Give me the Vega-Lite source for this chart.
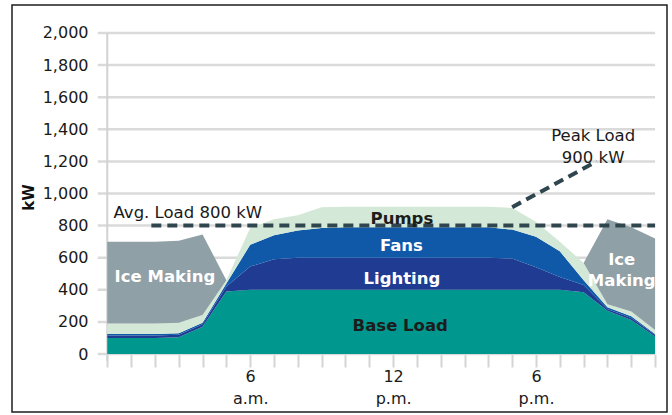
{
  "$schema": "https://vega.github.io/schema/vega-lite/v6.json",
  "width": 655,
  "height": 407,
  "autosize": "none",
  "padding": {"left": 12, "top": 5, "right": 5, "bottom": 3},
  "background": "white",
  "config": {
    "view": {"stroke": "#1e1e1e", "strokeWidth": 1.5},
    "font": "DejaVu Sans",
    "axis": {"grid": false}
  },
  "resolve": {"axis": {"x": "independent", "y": "independent"}},
  "datasets": {
    "loads": [
      {"hour": 0, "Base Load": 100, "Lighting": 15, "Fans": 10, "Pumps": 65, "Ice Making": 510},
      {"hour": 1, "Base Load": 100, "Lighting": 15, "Fans": 10, "Pumps": 65, "Ice Making": 510},
      {"hour": 2, "Base Load": 100, "Lighting": 15, "Fans": 10, "Pumps": 65, "Ice Making": 510},
      {"hour": 3, "Base Load": 105, "Lighting": 15, "Fans": 10, "Pumps": 65, "Ice Making": 510},
      {"hour": 4, "Base Load": 170, "Lighting": 15, "Fans": 10, "Pumps": 48, "Ice Making": 502},
      {"hour": 5, "Base Load": 390, "Lighting": 30, "Fans": 20, "Pumps": 20, "Ice Making": 0},
      {"hour": 6, "Base Load": 400, "Lighting": 145, "Fans": 135, "Pumps": 105, "Ice Making": 0},
      {"hour": 7, "Base Load": 400, "Lighting": 190, "Fans": 150, "Pumps": 100, "Ice Making": 0},
      {"hour": 8, "Base Load": 400, "Lighting": 200, "Fans": 170, "Pumps": 95, "Ice Making": 0},
      {"hour": 9, "Base Load": 400, "Lighting": 200, "Fans": 185, "Pumps": 130, "Ice Making": 0},
      {"hour": 10, "Base Load": 400, "Lighting": 200, "Fans": 190, "Pumps": 128, "Ice Making": 0},
      {"hour": 11, "Base Load": 400, "Lighting": 200, "Fans": 190, "Pumps": 128, "Ice Making": 0},
      {"hour": 12, "Base Load": 400, "Lighting": 200, "Fans": 190, "Pumps": 128, "Ice Making": 0},
      {"hour": 13, "Base Load": 400, "Lighting": 200, "Fans": 190, "Pumps": 128, "Ice Making": 0},
      {"hour": 14, "Base Load": 400, "Lighting": 200, "Fans": 190, "Pumps": 128, "Ice Making": 0},
      {"hour": 15, "Base Load": 400, "Lighting": 200, "Fans": 190, "Pumps": 128, "Ice Making": 0},
      {"hour": 16, "Base Load": 400, "Lighting": 200, "Fans": 190, "Pumps": 128, "Ice Making": 0},
      {"hour": 17, "Base Load": 400, "Lighting": 195, "Fans": 180, "Pumps": 135, "Ice Making": 0},
      {"hour": 18, "Base Load": 400, "Lighting": 140, "Fans": 190, "Pumps": 94, "Ice Making": 0},
      {"hour": 19, "Base Load": 400, "Lighting": 80, "Fans": 160, "Pumps": 60, "Ice Making": 0},
      {"hour": 20, "Base Load": 385, "Lighting": 45, "Fans": 30, "Pumps": 107, "Ice Making": 0},
      {"hour": 21, "Base Load": 270, "Lighting": 10, "Fans": 12, "Pumps": 18, "Ice Making": 530},
      {"hour": 22, "Base Load": 212, "Lighting": 13, "Fans": 10, "Pumps": 30, "Ice Making": 525},
      {"hour": 23, "Base Load": 110, "Lighting": 10, "Fans": 5, "Pumps": 25, "Ice Making": 570}
    ],
    "seriesInfo": [
      {"series": "Base Load", "rank": 1},
      {"series": "Lighting", "rank": 2},
      {"series": "Fans", "rank": 3},
      {"series": "Pumps", "rank": 4},
      {"series": "Ice Making", "rank": 5}
    ]
  },
  "layer": [
    {
      "data": {"values": [{"kw": 0}, {"kw": 200}, {"kw": 400}, {"kw": 600}, {"kw": 800}, {"kw": 1000}, {"kw": 1200}, {"kw": 1400}, {"kw": 1600}, {"kw": 1800}, {"kw": 2000}]},
      "mark": {"type": "rule", "color": "#dadada", "strokeWidth": 2.5},
      "encoding": {
        "x": {
          "datum": -0.4, "type": "quantitative",
          "scale": {"domain": [-4, 23.5], "nice": false, "zero": false},
          "axis": {
            "orient": "bottom", "offset": -58,
            "values": [0,1,2,3,4,5,6,7,8,9,10,11,12,13,14,15,16,17,18,19,20,21,22,23],
            "domain": false, "grid": false,
            "ticks": true, "tickSize": 13, "tickColor": "#d4d4d4", "tickWidth": 2,
            "labelExpr": "datum.value == 6 ? ['6','a.m.'] : datum.value == 12 ? ['12','p.m.'] : datum.value == 18 ? ['6','p.m.'] : ''",
            "labelFontSize": 16, "labelColor": "#1a1a1a", "labelLineHeight": 22, "labelPadding": 1,
            "labelFlush": false, "labelOverlap": false, "labelBound": false,
            "title": null
          }
        },
        "x2": {"datum": 23},
        "y": {
          "field": "kw", "type": "quantitative",
          "scale": {"domain": [-361, 2174], "nice": false, "zero": false},
          "axis": {
            "orient": "left", "offset": -95,
            "values": [0, 200, 400, 600, 800, 1000, 1200, 1400, 1600, 1800, 2000],
            "format": ",.0f",
            "domain": false, "grid": false, "ticks": false, "tickSize": 0,
            "labelPadding": 19, "labelFontSize": 16, "labelColor": "#1a1a1a",
            "title": "kW", "titleFontSize": 15, "titleFontWeight": "bold", "titleColor": "#111111",
            "titleX": -79, "titleY": 192, "titleAngle": -90, "titleAlign": "center", "titleBaseline": "middle"
          }
        }
      }
    },
    {
      "data": {"values": [{"hour": 0}]},
      "mark": {"type": "rule", "color": "#d2d2d2", "strokeWidth": 2},
      "encoding": {
        "x": {"field": "hour", "type": "quantitative", "axis": null},
        "y": {"datum": -40, "type": "quantitative", "axis": null},
        "y2": {"datum": 2000}
      }
    },
    {
      "data": {"name": "loads"},
      "transform": [
        {"fold": ["Base Load", "Lighting", "Fans", "Pumps", "Ice Making"], "as": ["series", "kw"]},
        {"lookup": "series", "from": {"data": {"name": "seriesInfo"}, "key": "series", "fields": ["rank"]}}
      ],
      "mark": {"type": "area", "interpolate": "linear"},
      "encoding": {
        "x": {"field": "hour", "type": "quantitative", "axis": null},
        "y": {"field": "kw", "type": "quantitative", "stack": "zero", "axis": null},
        "color": {
          "field": "series", "type": "nominal",
          "scale": {
            "domain": ["Base Load", "Lighting", "Fans", "Pumps", "Ice Making"],
            "range": ["#00978f", "#1f3c92", "#1059a8", "#d3e8d6", "#8fa0a6"]
          },
          "legend": null
        },
        "order": {"field": "rank", "type": "quantitative"}
      }
    },
    {
      "data": {"values": [{"hour": 1.85, "kw": 800}, {"hour": 23, "kw": 800}]},
      "mark": {"type": "line", "color": "#2f464e", "strokeWidth": 4, "strokeDash": [10, 6]},
      "encoding": {
        "x": {"field": "hour", "type": "quantitative", "axis": null},
        "y": {"field": "kw", "type": "quantitative", "axis": null}
      }
    },
    {
      "data": {"values": [{"hour": 17, "kw": 915}, {"hour": 20.55, "kw": 1200}]},
      "mark": {"type": "line", "color": "#2f464e", "strokeWidth": 4, "strokeDash": [10, 6]},
      "encoding": {
        "x": {"field": "hour", "type": "quantitative", "axis": null},
        "y": {"field": "kw", "type": "quantitative", "axis": null}
      }
    },
    {
      "data": {"values": [
        {"label": "Ice Making", "hour": 2.42, "kw": 480},
        {"label": "Ice\nMaking", "hour": 21.6, "kw": 583},
        {"label": "Pumps", "hour": 12.37, "kw": 841},
        {"label": "Fans", "hour": 12.35, "kw": 670},
        {"label": "Lighting", "hour": 12.37, "kw": 470},
        {"label": "Base Load", "hour": 12.3, "kw": 174}
      ]},
      "mark": {"type": "text", "fontWeight": "bold", "fontSize": 16.5, "align": "center", "baseline": "middle", "lineBreak": "\n", "lineHeight": 21},
      "encoding": {
        "x": {"field": "hour", "type": "quantitative", "axis": null},
        "y": {"field": "kw", "type": "quantitative", "axis": null},
        "text": {"field": "label"},
        "color": {"condition": {"test": "datum.label == 'Pumps' || datum.label == 'Base Load'", "value": "#1c1c1c"}, "value": "#ffffff"}
      }
    },
    {
      "data": {"values": [
        {"label": "Avg. Load 800 kW", "hour": 3.38, "kw": 878},
        {"label": "Peak Load\n900 kW", "hour": 20.4, "kw": 1358}
      ]},
      "mark": {"type": "text", "fontSize": 16.5, "align": "center", "baseline": "middle", "lineBreak": "\n", "lineHeight": 22, "color": "#1a1a1a"},
      "encoding": {
        "x": {"field": "hour", "type": "quantitative", "axis": null},
        "y": {"field": "kw", "type": "quantitative", "axis": null},
        "text": {"field": "label"}
      }
    }
  ]
}
